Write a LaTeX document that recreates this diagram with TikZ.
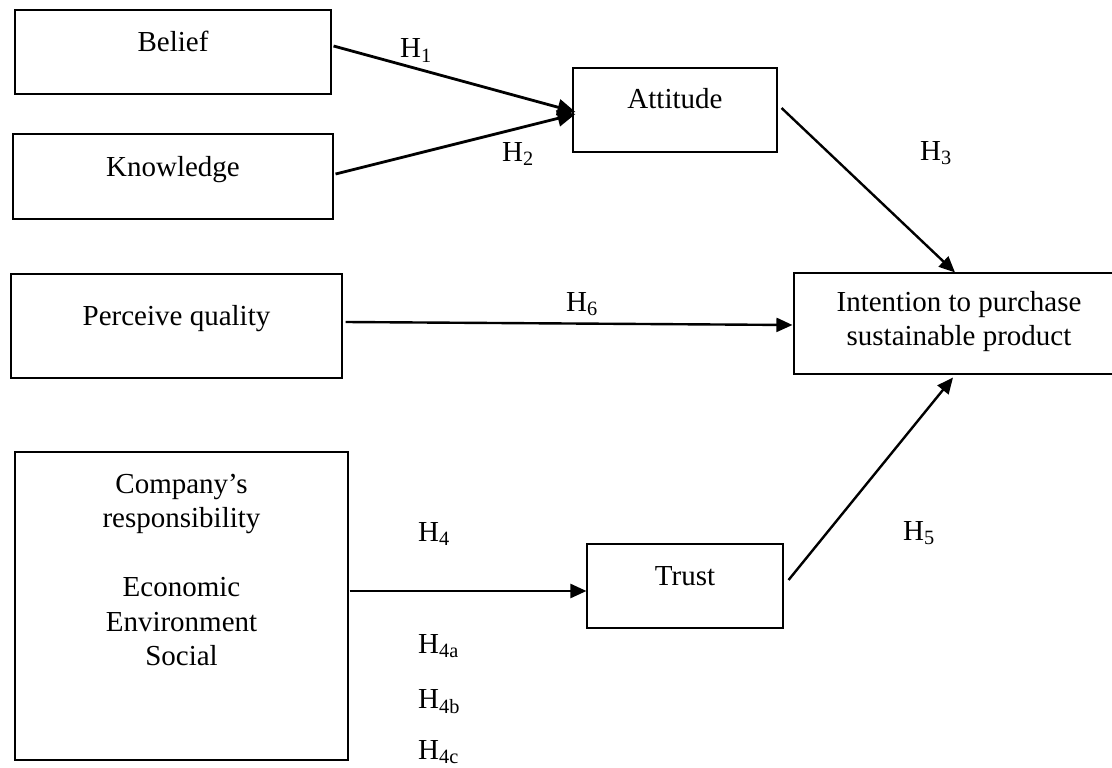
\documentclass[tikz,border=0pt]{standalone}
\usepackage{fontspec}
\setmainfont{Liberation Serif}
\usetikzlibrary{arrows.meta,calc}
\newcommand\hsub[1]{H\textsubscript{#1}}
\begin{document}
\begin{tikzpicture}[x=1pt,y=-1pt,
  box/.style={draw, line width=1.1pt, inner sep=0pt},
  lbl/.style={anchor=base, inner sep=0pt, font=\fontsize{29}{34.5}\selectfont},
  hyp/.style={anchor=base west, inner sep=0pt, font=\fontsize{29}{34.5}\selectfont},
  link/.style={line width=2.4pt, -{Triangle[length=16pt,width=14pt]}},
  biglink/.style={line width=2.8pt, -{Triangle[length=18pt,width=16pt]}},
]
\useasboundingbox (0,0) rectangle (1112,768);

% boxes
\node[box, minimum width=316pt, minimum height=84pt] (belief) at (173,52) {};
\node[box, minimum width=320pt, minimum height=85pt] (knowledge) at (173,176.5) {};
\node[box, minimum width=204pt, minimum height=84pt] (attitude) at (675,110) {};
\node[box, minimum width=330pt, minimum height=101pt] (intention) at (959,323.5) {};
\node[box, minimum width=331pt, minimum height=104pt] (perceive) at (176.5,326) {};
\node[box, minimum width=333pt, minimum height=308pt] (company) at (181.5,606) {};
\node[box, minimum width=196pt, minimum height=84pt] (trust) at (685,586) {};

% texts
\node[lbl] (tbelief) at (173,52) {Belief};
\node[lbl] (tknow) at (173,176) {Knowledge};
\node[lbl] (tatt) at (675,109) {Attitude};
\node[lbl] (tint1) at (959,311) {Intention to purchase};
\node[lbl] (tint2) at (959,345.5) {sustainable product};
\node[lbl] (tperc) at (176.5,325) {Perceive quality};
\node[lbl] (tcomp1) at (181.5,493) {Company’s};
\node[lbl] (tcomp2) at (181.5,527.5) {responsibility};
\node[lbl] (tcomp3) at (181.5,596.5) {Economic};
\node[lbl] (tcomp4) at (181.5,631) {Environment};
\node[lbl] (tcomp5) at (181.5,665.5) {Social};
\node[lbl] (ttrust) at (685,585) {Trust};

% connectors
\draw[biglink] ($(belief.east)+(2,-6)$) -- ($(attitude.west)+(3,2)$);
\draw[biglink] ($(knowledge.east)+(2,-2.5)$) -- ($(attitude.west)+(3,4)$);
\draw[link] ($(attitude.east)+(4,-2)$) -- ($(intention.north)+(-4,0)$);
\draw[link] ($(perceive.east)+(3,-4)$) -- ($(intention.west)+(-1,1.5)$);
\draw[link] ($(company.east)+(1,-15)$) -- ($(trust.west)+(0,5)$);
\draw[link] ($(trust.east)+(5,-6)$) -- ($(intention.south)+(-6,3)$);

% hypothesis labels
\node[hyp] (h1) at (400,58) {\hsub{1}};
\node[hyp] (h2) at (502,161) {\hsub{2}};
\node[hyp] (h3) at (920,160) {\hsub{3}};
\node[hyp] (h6) at (566,311) {\hsub{6}};
\node[hyp] (h4) at (418,541) {\hsub{4}};
\node[hyp] (h5) at (903,540) {\hsub{5}};
\node[hyp] (h4a) at (418,653) {\hsub{4a}};
\node[hyp] (h4b) at (418,708) {\hsub{4b}};
\node[hyp] (h4c) at (418,759) {\hsub{4c}};
\end{tikzpicture}
\end{document}
